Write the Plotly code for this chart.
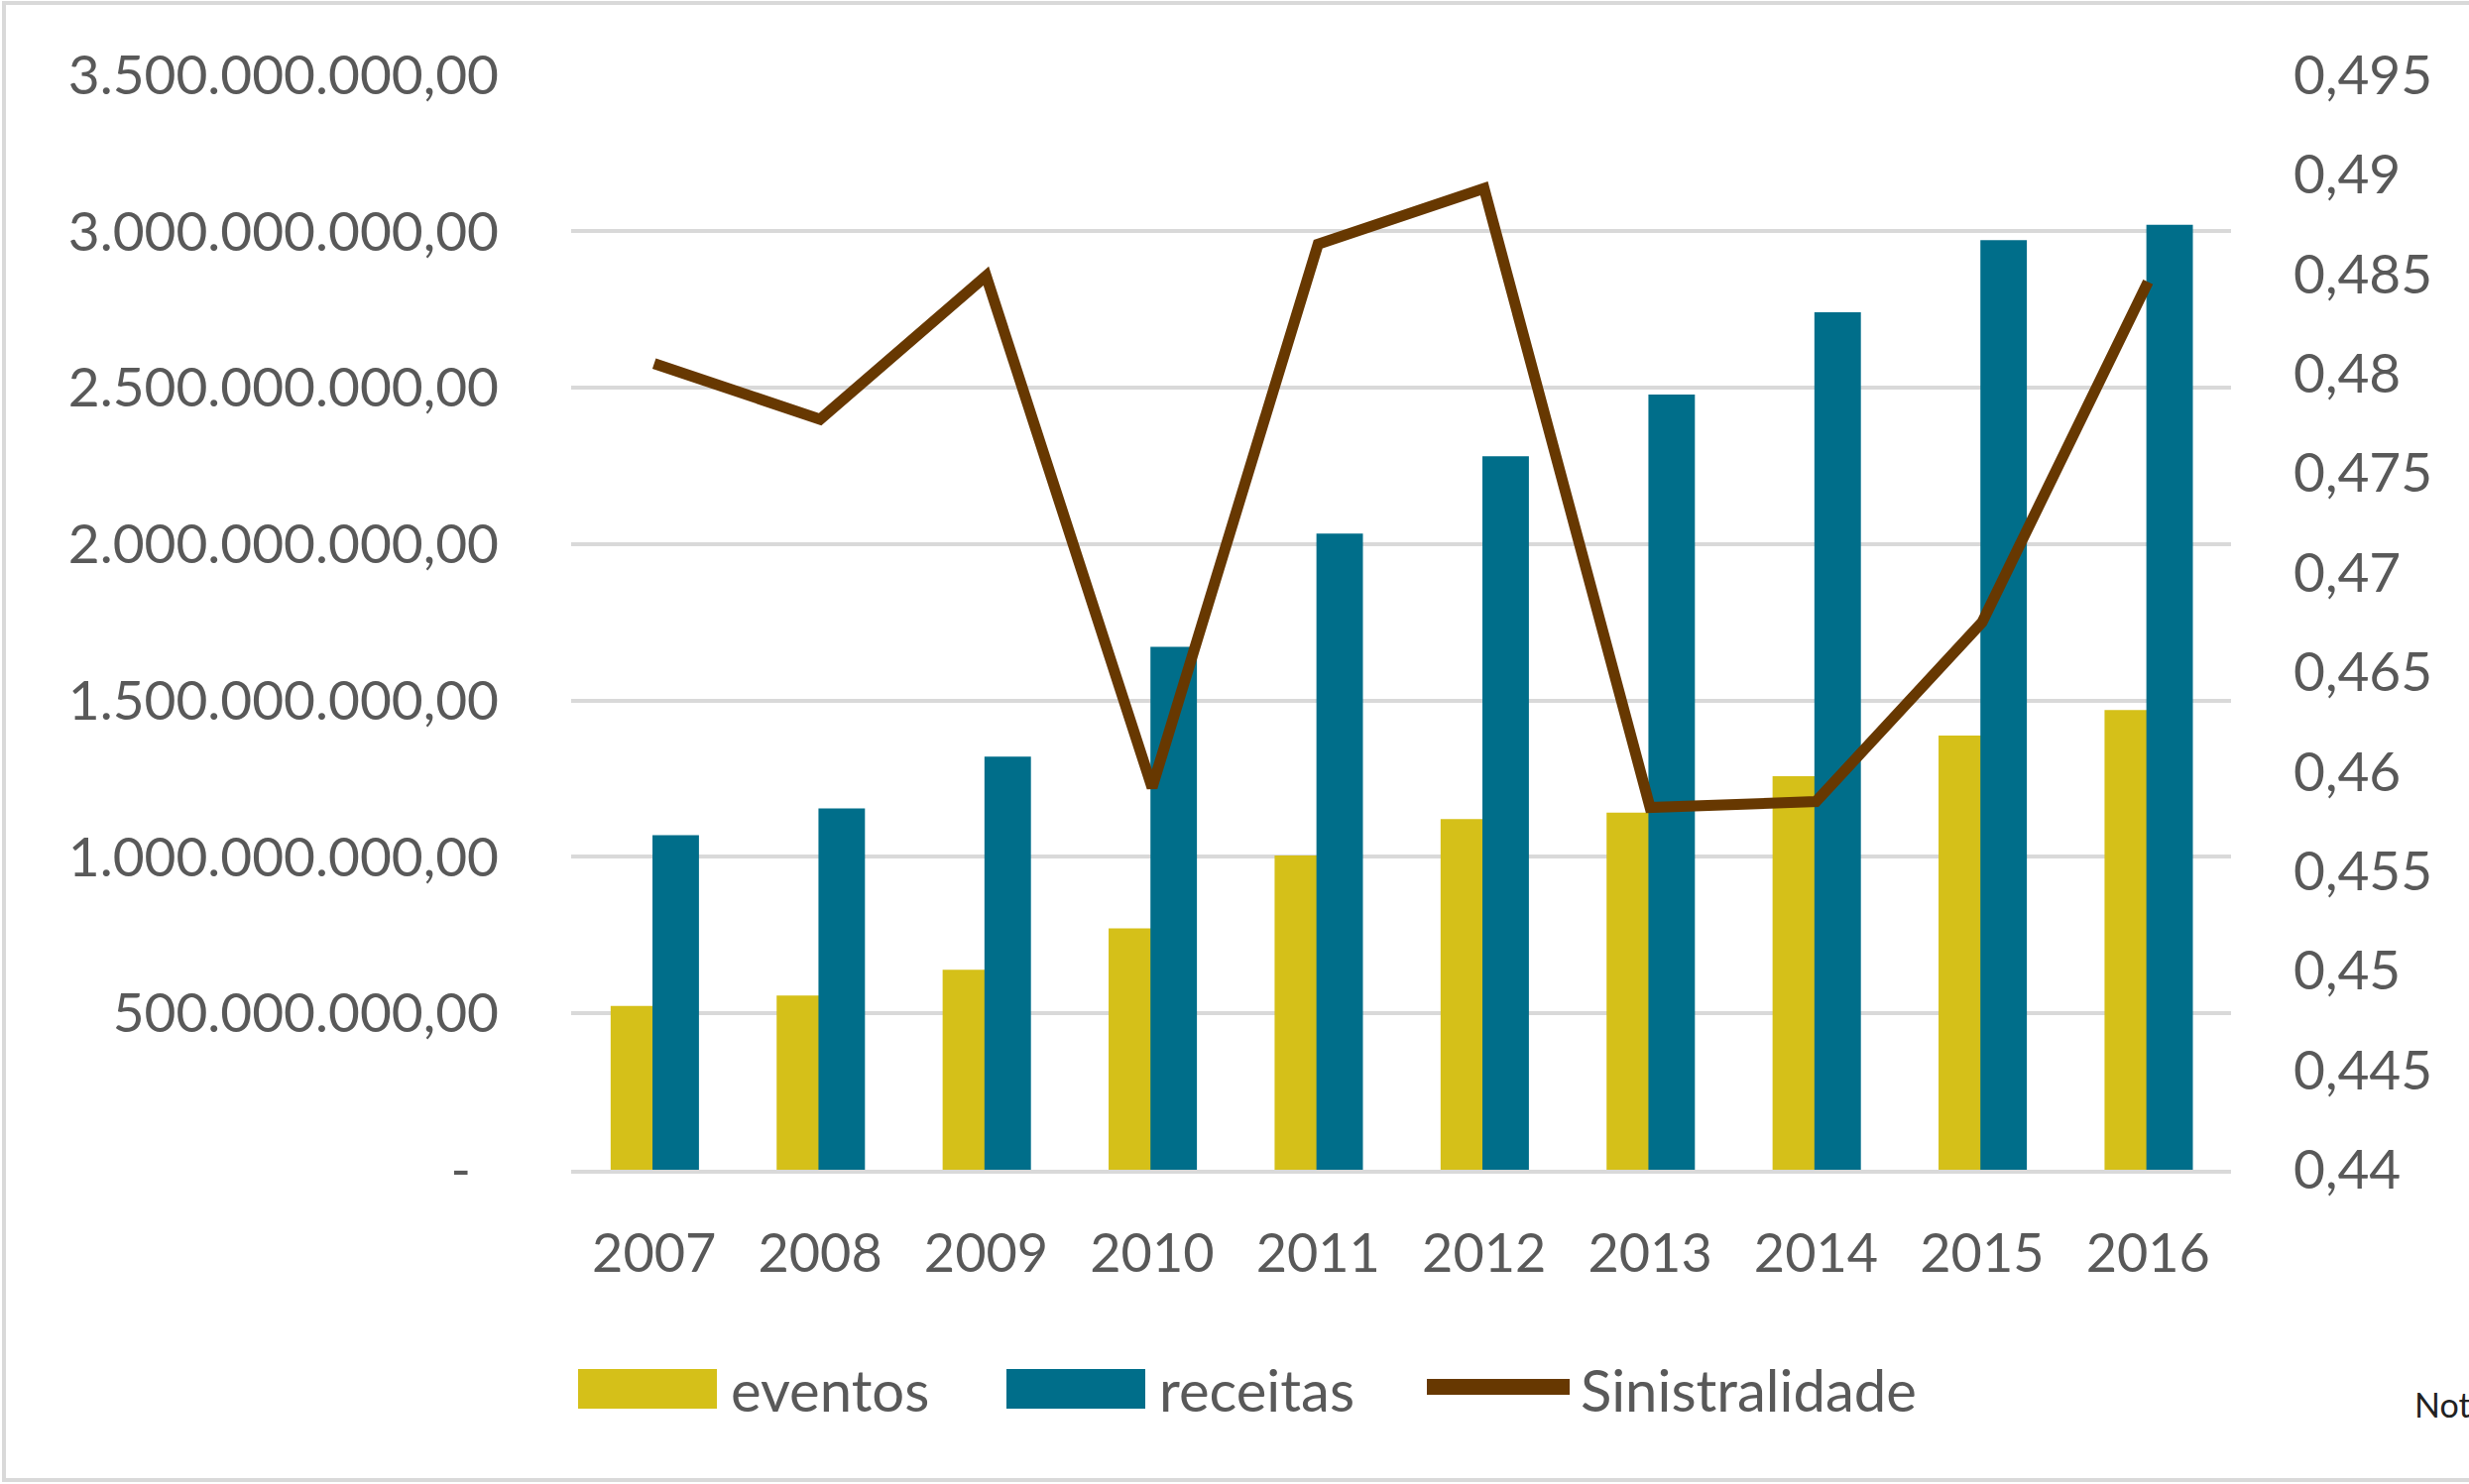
import plotly.graph_objects as go

# ---------------- data ----------------
anos = ["2007", "2008", "2009", "2010", "2011", "2012", "2013", "2014", "2015", "2016"]
eventos = [0.524e9, 0.557e9, 0.639e9, 0.772e9, 1.005e9, 1.121e9, 1.142e9, 1.258e9, 1.388e9, 1.470e9]
receitas = [1.070e9, 1.155e9, 1.321e9, 1.672e9, 2.034e9, 2.281e9, 2.478e9, 2.741e9, 2.972e9, 3.021e9]
sinistralidade = [0.4805, 0.4777, 0.4849, 0.4592, 0.4865, 0.4893, 0.4582, 0.4585, 0.4675, 0.4846]

y_ticks = [0, 0.5e9, 1.0e9, 1.5e9, 2.0e9, 2.5e9, 3.0e9, 3.5e9]
y_labels = ["-\u00a0\u00a0", "500.000.000,00", "1.000.000.000,00", "1.500.000.000,00",
            "2.000.000.000,00", "2.500.000.000,00", "3.000.000.000,00", "3.500.000.000,00"]
y2_ticks = [0.44, 0.445, 0.45, 0.455, 0.46, 0.465, 0.47, 0.475, 0.48, 0.485, 0.49, 0.495]
y2_labels = ["0,44", "0,445", "0,45", "0,455", "0,46", "0,465", "0,47", "0,475", "0,48",
             "0,485", "0,49", "0,495"]

# ---------------- style ----------------
YELLOW = "#D5C019"
TEAL = "#006E8A"
BROWN = "#673801"
GRID = "#D9D9D9"
TXT = "#595959"
FONT = "Lato"

W, H = 2490, 1497
L, R, T, B = 576, 2250, 75, 1180
Y_TOP = 3.502e9
Y2_TOP = 0.44 + (0.495 - 0.44) * Y_TOP / 3.5e9


def xp(px):
    return (px - L) / (R - L)


def yp(py):
    return (B - py) / (B - T)


fig = go.Figure()
fig.add_bar(x=anos, y=eventos, name="eventos", marker=dict(color=YELLOW, line=dict(width=0)),
            width=0.27, offset=-0.262, showlegend=False)
fig.add_bar(x=anos, y=receitas, name="receitas", marker=dict(color=TEAL, line=dict(width=0)),
            width=0.28, offset=-0.01, showlegend=False)
fig.add_scatter(x=anos, y=sinistralidade, name="Sinistralidade", yaxis="y2", mode="lines",
                line=dict(color=BROWN, width=11), showlegend=False)

shapes = [
    # outer chart border
    dict(type="rect", xref="paper", yref="paper", x0=xp(4), x1=xp(2560), y0=yp(3), y1=yp(1493),
         line=dict(color=GRID, width=4), fillcolor="rgba(0,0,0,0)", layer="below"),
    # legend swatches
    dict(type="rect", xref="paper", yref="paper", x0=xp(583), x1=xp(723), y0=yp(1381), y1=yp(1421),
         line=dict(width=0), fillcolor=YELLOW),
    dict(type="rect", xref="paper", yref="paper", x0=xp(1015), x1=xp(1155), y0=yp(1381), y1=yp(1421),
         line=dict(width=0), fillcolor=TEAL),
    dict(type="line", xref="paper", yref="paper", x0=xp(1439), x1=xp(1583), y0=yp(1399), y1=yp(1399),
         line=dict(color=BROWN, width=16)),
]

annotations = [
    dict(text="eventos", x=xp(735), y=yp(1401), xref="paper", yref="paper", xanchor="left",
         yanchor="middle", showarrow=False, font=dict(family=FONT, size=58, color=TXT)),
    dict(text="receitas", x=xp(1167), y=yp(1401), xref="paper", yref="paper", xanchor="left",
         yanchor="middle", showarrow=False, font=dict(family=FONT, size=58, color=TXT)),
    dict(text="Sinistralidade", x=xp(1592), y=yp(1401), xref="paper", yref="paper", xanchor="left",
         yanchor="middle", showarrow=False, font=dict(family=FONT, size=58, color=TXT)),
    dict(text="Nota:", x=xp(2433), y=yp(1416), xref="paper", yref="paper", xanchor="left",
         yanchor="middle", showarrow=False, font=dict(family=FONT, size=34, color="#222222")),
]

fig.update_layout(
    width=W, height=H,
    margin=dict(l=L, r=W - R, t=T, b=H - B, autoexpand=False),
    paper_bgcolor="white", plot_bgcolor="white",
    barmode="overlay",
    font=dict(family=FONT, color=TXT),
    xaxis=dict(type="category", range=[-0.5, 9.5], showgrid=False, zeroline=False,
               showline=True, linecolor=GRID, linewidth=4, ticks="",
               tickfont=dict(family=FONT, size=54, color=TXT), ticklabelstandoff=34),
    yaxis=dict(range=[0, Y_TOP], tickmode="array", tickvals=y_ticks, ticktext=y_labels,
               showgrid=True, gridcolor=GRID, gridwidth=4, zeroline=False, showline=False,
               ticks="", tickfont=dict(family=FONT, size=55, color=TXT), ticklabelstandoff=72),
    yaxis2=dict(range=[0.44, Y2_TOP], overlaying="y", side="right", tickmode="array",
                tickvals=y2_ticks, ticktext=y2_labels, showgrid=False, zeroline=False,
                showline=False, ticks="", tickfont=dict(family=FONT, size=55, color=TXT),
                ticklabelstandoff=62),
    shapes=shapes,
    annotations=annotations,
    showlegend=False,
)

fig.write_html("out.html", config={"displayModeBar": False},
               post_script="document.body.style.margin='0';")
